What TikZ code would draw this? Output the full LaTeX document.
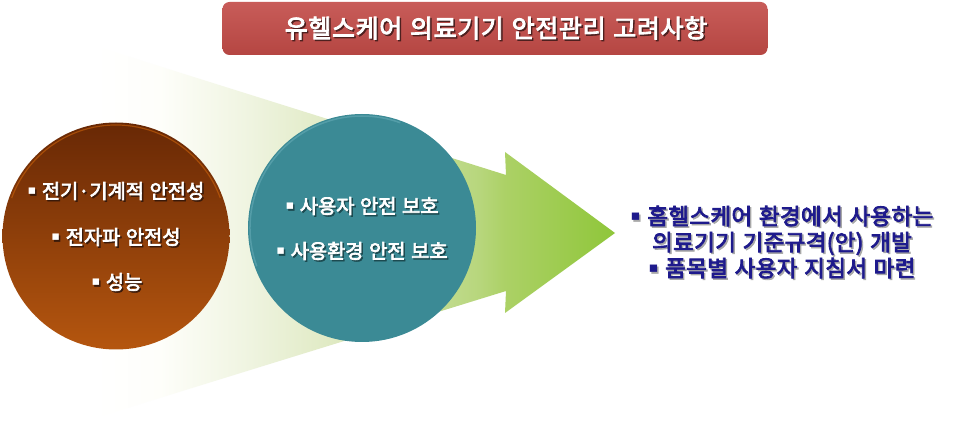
\documentclass[tikz,border=0pt]{standalone}
\usepackage{fontspec}
\newfontfamily\kr{Noto Sans CJK KR}[WordSpace=1.25, FakeBold=3.5]
\newfontfamily\dv{DejaVu Sans}
\usetikzlibrary{calc}
\definecolor{fsA}{HTML}{FEFEFA}
\definecolor{fsB}{HTML}{EFF4E0}
\definecolor{fsC}{HTML}{E0EAC4}
\definecolor{fsD}{HTML}{B7D67C}
\definecolor{fsE}{HTML}{ACD166}
\definecolor{fsF}{HTML}{8FC63A}
\definecolor{titlered}{HTML}{C0504D}
\definecolor{titletop}{HTML}{C85C59}
\definecolor{titlebot}{HTML}{B54642}
\definecolor{browntop}{HTML}{682805}
\definecolor{brownbot}{HTML}{B5560F}
\definecolor{tealc}{HTML}{3B8A95}
\definecolor{tealrim}{HTML}{5FA6B1}
\definecolor{navy}{HTML}{1E1A8C}
\definecolor{shdark}{HTML}{3A1A0A}
\definecolor{shteal}{HTML}{1C4A50}
\definecolor{shgray}{HTML}{A8A8A8}
\pgfdeclarehorizontalshading{funnelsh}{100bp}{color(0bp)=(white); color(25bp)=(white); color(31.25bp)=(fsA); color(39.9bp)=(fsB); color(47.6bp)=(fsC); color(62bp)=(fsD); color(64.4bp)=(fsE); color(75bp)=(fsF); color(100bp)=(fsF)}
\newcommand\bul{{\dv\raisebox{0.18em}{\scalebox{0.65}{\char"25AA}}}}
\newcommand\shnode[5]{%
  \node[#3, text=#4] (#1s) at ($(#2)+(1.5,1.5)$) {#5};
  \node[#3] (#1) at (#2) {#5};}
\tikzset{
  circtxt/.style={inner sep=0pt, text=white, font=\kr\fontsize{19.8}{20}\selectfont},
  titletxt/.style={inner sep=0pt, text=white, font=\kr\fontsize{25}{26}\selectfont\addfontfeature{LetterSpace=2.5}},
  righttxt/.style={inner sep=0pt, text=navy, align=center, font=\kr\fontsize{22.5}{26}\selectfont\addfontfeature{LetterSpace=1.5}},
}
\begin{document}
\begin{tikzpicture}[x=1pt,y=-1pt]
\useasboundingbox (0,0) rectangle (980,427);
\fill[white] (0,0) rectangle (980,427);
% funnel arrow
\shade[shading=funnelsh] (95,46) -- (506,175) -- (505,152) -- (615,233) -- (505,313) -- (506,291) -- (95,418) -- cycle;
% circles
\node[circle, minimum size=227pt, inner sep=0pt, top color=browntop, bottom color=brownbot] (brown) at (116,236) {};
\draw[brownbot!70!orange, line width=1.2pt, opacity=0.6] ($(brown.center)+(200:111)$) arc[start angle=200, end angle=340, radius=111];
\node[circle, minimum size=228pt, inner sep=0pt, fill=tealc] (teal) at (362,228) {};
\draw[tealrim, line width=1.5pt, opacity=0.7] ($(teal.center)+(160:112)$) arc[start angle=160, end angle=290, radius=112];
% title bar
\node[rounded corners=7pt, minimum width=545pt, minimum height=53pt, inner sep=0pt, top color=titletop, bottom color=titlebot] (bar) at (495,28.5) {};
\shnode{title}{496,28}{titletxt}{titlered!40!black}{유헬스케어 의료기기 안전관리 고려사항}
% brown circle text
\shnode{b1}{116,191}{circtxt}{shdark}{\bul\ 전기·기계적 안전성}
\shnode{b2}{116,237}{circtxt}{shdark}{\bul\ 전자파 안전성}
\shnode{b3}{117,282}{circtxt}{shdark}{\bul\ 성능}
% teal circle text
\shnode{t1}{362,206}{circtxt}{shteal}{\bul\ 사용자 안전 보호}
\shnode{t2}{362,251}{circtxt}{shteal}{\bul\ 사용환경 안전 보호}
% right text
\shnode{r1}{782,242}{righttxt}{shgray}{\bul\ 홈헬스케어 환경에서 사용하는\\의료기기 기준규격(안) 개발\\\bul\ 품목별 사용자 지침서 마련}
\end{tikzpicture}
\end{document}
